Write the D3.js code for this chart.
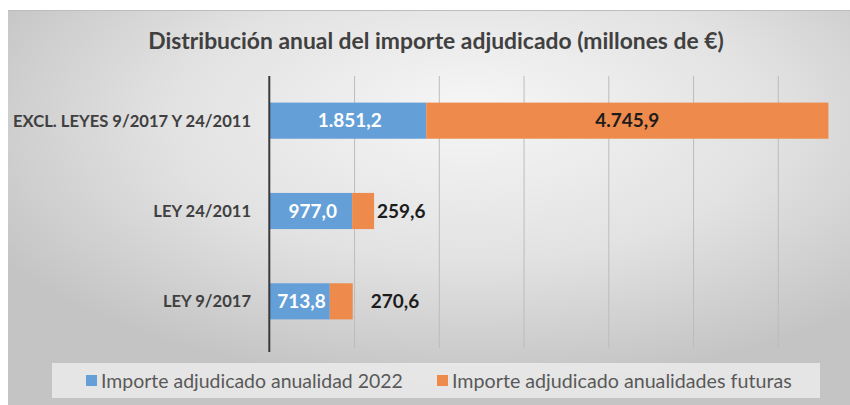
<!DOCTYPE html>
<html>
<head>
<meta charset="utf-8">
<script src="https://cdn.jsdelivr.net/npm/d3@7"></script>
<style>
  body { margin: 0; background: #fff; }
  svg { display: block; font-family: Lato, "Open Sans", sans-serif; }
</style>
</head>
<body>
<svg id="chart" width="850" height="405"></svg>
<script>
// datos
var categorias = ["EXCL. LEYES 9/2017 Y 24/2011", "LEY 24/2011", "LEY 9/2017"];
var anualidad2022 = [1851.2, 977.0, 713.8];
var anualidadesFuturas = [4745.9, 259.6, 270.6];
var series = ["Importe adjudicado anualidad 2022", "Importe adjudicado anualidades futuras"];
var titulo = "Distribución anual del importe adjudicado (millones de €)";
var xMax = 7000;

// colores y ajustes
var colores = ["#649fd8", "#ee8b4c"];
var nudge = [0, 3, 18]; // separación etiqueta futuras fuera de la barra

var es = d3.formatLocale({ decimal: ",", thousands: ".", grouping: [3], currency: ["", "€"] });
var fmt = es.format(",.1f");

var svg = d3.select("#chart");

// fondo con degradado
var defs = svg.append("defs");
var grad = defs.append("radialGradient")
    .attr("id", "bg")
    .attr("cx", "0.55").attr("cy", "0.3").attr("r", "0.65")
    .attr("fx", "0.55").attr("fy", "0.25");
grad.append("stop").attr("offset", "0").attr("stop-color", "#f6f6f6");
grad.append("stop").attr("offset", "0.55").attr("stop-color", "#e2e2e2");
grad.append("stop").attr("offset", "1").attr("stop-color", "#c4c4c4");

svg.append("rect")
    .attr("x", 8).attr("y", 10)
    .attr("width", 842).attr("height", 395)
    .attr("fill", "url(#bg)");
svg.append("line")
    .attr("x1", 8).attr("x2", 850).attr("y1", 10.5).attr("y2", 10.5)
    .attr("stroke", "#bdbdbd");

// ajusta el tamaño de letra a un ancho
function fitWidth(sel, w) {
    var base = 20;
    sel.style("font-size", base + "px");
    var len = sel.node().getComputedTextLength();
    var size = base * w / len;
    sel.style("font-size", size + "px");
    return size;
}

// escalas
var x = d3.scaleLinear()
    .domain([0, xMax])
    .range([269.3, 269.3 + 7 * 84.75]);

var y = d3.scaleBand()
    .domain(categorias)
    .range([75.5, 346.5])
    .paddingInner(0.6)
    .paddingOuter(0.3);

// título
var t = svg.append("text")
    .attr("x", 436).attr("y", 48.5)
    .attr("text-anchor", "middle")
    .attr("fill", "#404040")
    .style("font-weight", "bold")
    .text(titulo);
fitWidth(t, 576);

// rejilla
svg.append("g")
    .selectAll("line")
    .data(x.ticks(7).filter(d => d > 0))
    .join("line")
    .attr("x1", d => x(d) + 0.5).attr("x2", d => x(d) + 0.5)
    .attr("y1", 76).attr("y2", 348)
    .attr("stroke", "#bcbcbc")
    .attr("stroke-width", 1);

// barras
var filas = categorias.map((c, i) => ({ cat: c, a: anualidad2022[i], f: anualidadesFuturas[i], i: i }));

svg.append("g")
    .selectAll("rect")
    .data(filas)
    .join("rect")
    .attr("x", d => x(0))
    .attr("y", d => y(d.cat))
    .attr("width", d => x(d.a) - x(0))
    .attr("height", y.bandwidth())
    .attr("fill", colores[0]);

svg.append("g")
    .selectAll("rect")
    .data(filas)
    .join("rect")
    .attr("x", d => x(d.a))
    .attr("y", d => y(d.cat))
    .attr("width", d => x(d.a + d.f) - x(d.a))
    .attr("height", y.bandwidth())
    .attr("fill", colores[1]);

// eje vertical
svg.append("line")
    .attr("x1", x(0)).attr("x2", x(0))
    .attr("y1", 76).attr("y2", 352)
    .attr("stroke", "#3a3a3a")
    .attr("stroke-width", 2);

// etiquetas de categoría
var cats = svg.append("g")
    .selectAll("text")
    .data(categorias)
    .join("text")
    .attr("x", 251)
    .attr("y", d => y(d) + y.bandwidth() / 2)
    .attr("dy", "0.36em")
    .attr("text-anchor", "end")
    .attr("fill", "#404040")
    .style("font-weight", "bold")
    .text(d => d);
var catSize = fitWidth(d3.select(cats.nodes()[0]), 238);
cats.style("font-size", catSize + "px");

// etiquetas de valores
var lblA = svg.append("g")
    .selectAll("text")
    .data(filas)
    .join("text")
    .attr("x", d => (x(0) + x(d.a)) / 2 + 2)
    .attr("y", d => y(d.cat) + y.bandwidth() / 2)
    .attr("dy", "0.36em")
    .attr("text-anchor", "middle")
    .attr("fill", "#ffffff")
    .style("font-weight", "bold")
    .text(d => fmt(d.a));
var valSize = fitWidth(d3.select(lblA.nodes()[0]), 64);
lblA.style("font-size", valSize + "px");

svg.append("g")
    .selectAll("text")
    .data(filas)
    .join("text")
    .attr("x", d => {
        var w = x(d.a + d.f) - x(d.a);
        return w > 80 ? (x(d.a) + x(d.a + d.f)) / 2 : x(d.a + d.f) + nudge[d.i];
    })
    .attr("y", d => y(d.cat) + y.bandwidth() / 2)
    .attr("dy", "0.36em")
    .attr("text-anchor", d => (x(d.a + d.f) - x(d.a)) > 80 ? "middle" : "start")
    .attr("fill", "#1c1c1c")
    .style("font-weight", "bold")
    .style("font-size", valSize + "px")
    .text(d => fmt(d.f));

// leyenda
svg.append("rect")
    .attr("x", 52).attr("y", 363)
    .attr("width", 768).attr("height", 35)
    .attr("fill", "#f0f0f0")
    .attr("fill-opacity", 0.75);

var legX = [86, 437];
var legW = [302, 340];
var leg = svg.append("g")
    .selectAll("g")
    .data(series)
    .join("g")
    .attr("transform", (d, i) => `translate(${legX[i]}, 380.5)`);

leg.append("rect")
    .attr("x", 0).attr("y", -5.5)
    .attr("width", 11).attr("height", 11)
    .attr("fill", (d, i) => colores[i]);

leg.append("text")
    .attr("x", 15)
    .attr("dy", "0.36em")
    .attr("fill", "#595959")
    .text(d => d)
    .each(function (d, i) { fitWidth(d3.select(this), legW[i]); });
</script>
</body>
</html>
